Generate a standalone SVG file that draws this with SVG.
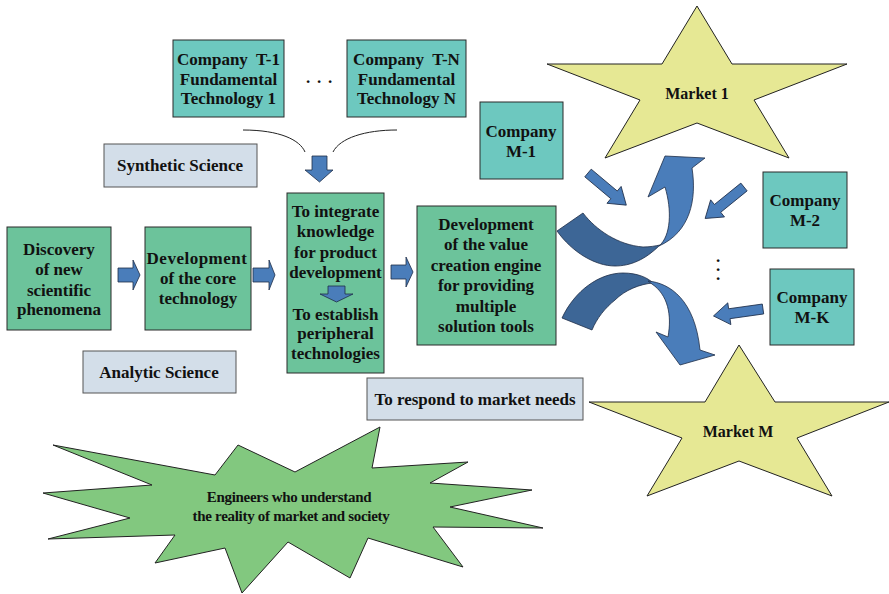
<svg xmlns="http://www.w3.org/2000/svg" width="889" height="594" viewBox="0 0 889 594">
  <style>
    .box{stroke:#2a2a2a;stroke-width:1}
    .g{fill:#6cc39b}
    .t{fill:#6dc8bf}
    .s{fill:#d3dee9;stroke:#555}
    .star{fill:#e6e894;stroke:#222;stroke-width:1}
    .burst{fill:#82c87f;stroke:#222;stroke-width:1}
    .arr{fill:#4a7dba;stroke:#1e2d48;stroke-width:0.8}
    .dark{fill:#3d6696;stroke:#1e2d48;stroke-width:0.8}
    .link{fill:none;stroke:#222;stroke-width:1}
    text{font-family:"Liberation Serif","Times New Roman",serif;font-weight:bold;font-size:17px;fill:#111;text-anchor:middle}
    .m{font-size:16px}
    .e{font-size:15px;letter-spacing:-0.3px}
  </style>
  <defs>
    <path id="blk" d="M0,-5 H34 V-11 L50,0 L34,11 V5 H0 Z"/>
  </defs>

  <!-- markets -->
  <g id="market1">
    <polygon class="star" points="697,6 732,64 847,64 754,100 789,158 697,123 605,158 640,100 547,64 662,64"/>
    <text class="m" x="697" y="99">Market 1</text>
  </g>
  <g id="marketM">
    <polygon class="star" points="739,345 775,402 889,402 797,438 832,496 739,461 647,496 682,438 589,402 705,402"/>
    <text class="m" x="738" y="437">Market M</text>
  </g>

  <!-- engineers -->
  <g id="engineers">
    <polygon class="burst" points="53,445 215,475 238,445 295,472 380,427 372,468 468,462 430,483 532,490 450,507 543,528 433,527 463,567 368,538 350,578 288,542 242,593 225,548 155,563 175,535 48,539 130,518 43,493 152,485"/>
    <text class="e" x="289" y="502">Engineers who understand</text>
    <text class="e" x="291" y="521">the reality of market and society</text>
  </g>

  <!-- science labels -->
  <g id="synthetic">
    <rect class="s" x="104" y="144" width="153" height="43"/>
    <text x="180" y="171">Synthetic Science</text>
  </g>
  <g id="analytic">
    <rect class="s" x="83" y="351" width="153" height="42"/>
    <text x="159" y="378">Analytic Science</text>
  </g>
  <g id="respond">
    <rect class="s" x="367" y="378" width="216" height="42"/>
    <text x="475" y="405">To respond to market needs</text>
  </g>

  <!-- technology suppliers -->
  <g id="companyT1">
    <rect class="box t" x="173" y="40" width="111" height="77"/>
    <text x="228.5" y="65">Company&#160; T-1</text>
    <text x="228.5" y="85">Fundamental</text>
    <text x="228.5" y="104">Technology 1</text>
  </g>
  <g id="companyTN">
    <rect class="box t" x="347" y="40" width="119" height="77"/>
    <text x="406.5" y="65">Company&#160; T-N</text>
    <text x="406.5" y="85">Fundamental</text>
    <text x="406.5" y="104">Technology N</text>
  </g>
  <text x="306 317 328" y="83" style="text-anchor:start">...</text>

  <!-- main chain -->
  <g id="discovery">
    <rect class="box g" x="7" y="227" width="104" height="103"/>
    <text x="59" y="255">Discovery</text>
    <text x="59" y="275">of new</text>
    <text x="59" y="296">scientific</text>
    <text x="59" y="315">phenomena</text>
  </g>
  <g id="coreTech">
    <rect class="box g" x="145" y="227" width="106" height="103"/>
    <text x="197" y="264" style="letter-spacing:0.5px">Development</text>
    <text x="198" y="284">of the core</text>
    <text x="198" y="304">technology</text>
  </g>
  <g id="integrate">
    <rect class="box g" x="287" y="193" width="97" height="180"/>
    <text x="335.5" y="217">To integrate</text>
    <text x="335.5" y="237">knowledge</text>
    <text x="335.5" y="258">for product</text>
    <text x="335.5" y="278">development</text>
    <path class="arr" d="M328,286 H345 V294 H353 L336.5,302 L320,294 H328 Z"/>
    <text x="335.5" y="320">To establish</text>
    <text x="335.5" y="339">peripheral</text>
    <text x="335.5" y="359">technologies</text>
  </g>
  <g id="valueEngine">
    <rect class="box g" x="417" y="206" width="139" height="139"/>
    <text x="486" y="230">Development</text>
    <text x="486" y="250">of the value</text>
    <text x="486" y="271">creation engine</text>
    <text x="486" y="291">for providing</text>
    <text x="486" y="312">multiple</text>
    <text x="486" y="332">solution tools</text>
  </g>

  <!-- customer companies -->
  <g id="companyM1">
    <rect class="box t" x="480" y="102" width="83" height="77"/>
    <text x="521" y="137">Company</text>
    <text x="521" y="157">M-1</text>
  </g>
  <g id="companyM2">
    <rect class="box t" x="763" y="172" width="84" height="76"/>
    <text x="805" y="206">Company</text>
    <text x="805" y="226">M-2</text>
  </g>
  <g id="companyMK">
    <rect class="box t" x="770" y="269" width="84" height="76"/>
    <text x="812" y="303">Company</text>
    <text x="812" y="323">M-K</text>
  </g>
  <text x="716 716 716" y="262 271 280" style="text-anchor:start">...</text>

  <!-- connectors -->
  <g id="connectors">
    <path class="link" d="M243,130 C280,130 300,140 305,152"/>
    <path class="link" d="M333,152 C340,138 365,130 397,130"/>
    <path class="arr" d="M312,156 H327 V170 H333 L319.5,182 L305,170 H312 Z"/>
    <path class="arr" d="M118,268 H133 V260 L140,275 L133,290 V282 H118 Z"/>
    <path class="arr" d="M253,268 H269 V260 L275,275 L269,290 V282 H253 Z"/>
    <path class="arr" d="M391,265 H406 V257 L413,272 L406,287 V279 H391 Z"/>
    <use href="#blk" class="arr" transform="translate(588,173) rotate(40)"/>
    <use href="#blk" class="arr" transform="translate(744,187) rotate(141)"/>
    <use href="#blk" class="arr" transform="translate(763,309) rotate(172)"/>
    <!-- twisted ribbon arrow up to market 1 -->
    <path class="dark" d="M557,231 L583,213 C596,230 618,245 643,247 C650,247 655,246 660,245 C645,260 630,266 615,266 C595,266 572,252 557,231 Z"/>
    <path class="arr" d="M659,246 C671,236 672,210 665,187 L648,197 L665,156 L705,158 L692,168 C697,200 690,232 659,246 Z"/>
    <!-- twisted ribbon arrow down to market M -->
    <path class="dark" d="M562,318 C575,290 600,273 623,273 C638,273 648,278 653,283 C640,284 625,290 615,300 C605,308 597,318 592,330 Z"/>
    <path class="arr" d="M648,281 C670,283 695,300 700,350 L715,355 L680,365 L656,332 L668,337 C672,315 668,295 652,284 Z"/>
  </g>
</svg>
